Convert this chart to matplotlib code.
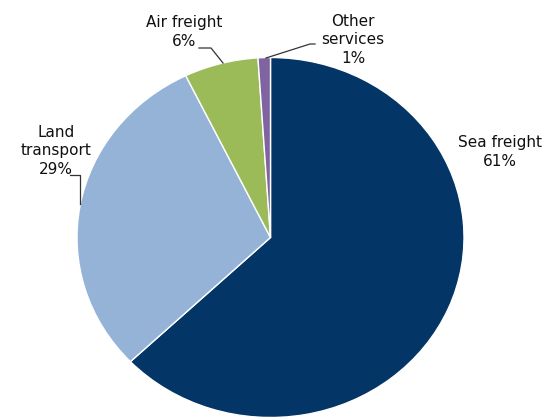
import matplotlib
matplotlib.use("Agg")
import matplotlib.pyplot as plt

# freight revenue split
categories = ["Sea freight", "Land transport", "Air freight", "Other services"]
shares = [61, 29, 6, 1]
colors = ["#033567", "#95b3d7", "#9bbb59", "#8064a2"]

# pie centre / radii in pixels (reference is slightly stretched horizontally)
W, H = 559, 418
cx, cy = 270.5, 237.5
rx, ry = 193.5, 180.0


def to_data(px, py):
    return (px - cx) / rx, (cy - py) / ry


fig = plt.figure(figsize=(W / 100, H / 100), dpi=100)
ax = fig.add_axes([0, 0, 1, 1])

ax.pie(
    shares,
    colors=colors,
    startangle=90,
    counterclock=False,
    radius=1,
    wedgeprops=dict(edgecolor="white", linewidth=1),
)
ax.set_aspect("auto")
ax.set_xlim(-cx / rx, (W - cx) / rx)
ax.set_ylim((cy - H) / ry, cy / ry)
ax.axis("off")

label_text = {
    "Sea freight": "Sea freight\n61%",
    "Land transport": "Land\ntransport\n29%",
    "Air freight": "Air freight\n6%",
    "Other services": "Other\nservices\n1%",
}
# label centres in pixel space
label_pos = {
    "Sea freight": (500, 152),
    "Land transport": (56, 151),
    "Air freight": (184, 32),
    "Other services": (353, 40),
}
# leader lines (pixel space)
leaders = {
    "Land transport": [(70, 175), (80, 175), (80, 204)],
    "Air freight": [(199, 48), (211, 48), (223, 63)],
    "Other services": [(315, 44), (310, 44), (266, 58)],
}

for name in categories:
    x, y = to_data(*label_pos[name])
    ax.text(x, y, label_text[name], ha="center", va="center", fontsize=11,
            color="#111111", linespacing=1.3)
    if name in leaders:
        pts = [to_data(*p) for p in leaders[name]]
        ax.plot([p[0] for p in pts], [p[1] for p in pts], color="#333333",
                linewidth=0.9, clip_on=False)

fig.savefig("out.png", dpi=100)
